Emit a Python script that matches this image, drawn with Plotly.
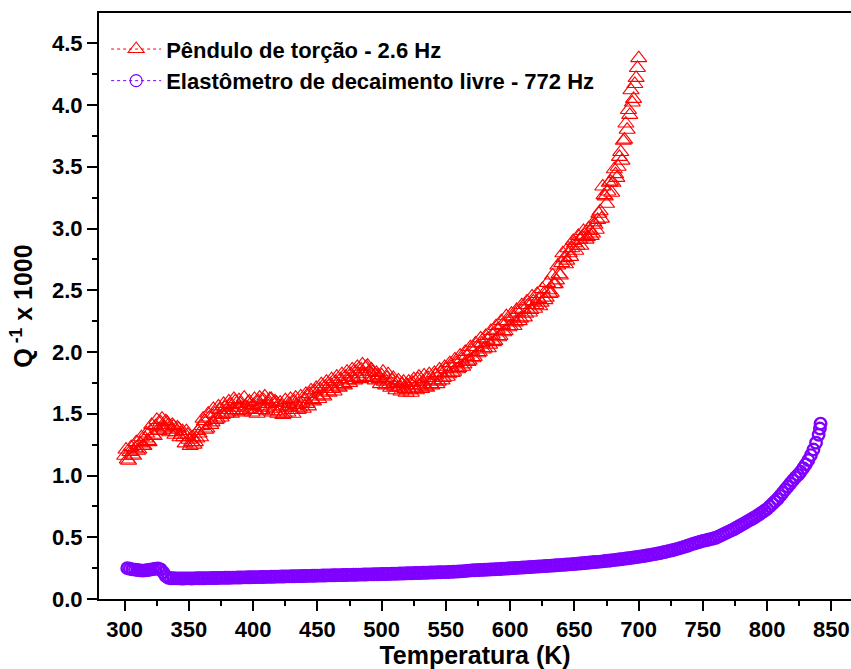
import plotly.graph_objects as go

# Torsion pendulum 2.6 Hz (red triangles)
temp_torcao = [
    300, 302, 304, 306, 308, 310, 312, 314, 316, 318,
    320, 322, 324, 326, 328, 330, 332, 334, 336, 338,
    340, 342, 344, 346, 348, 350, 352, 354, 356, 358,
    360, 362, 364, 366, 368, 370, 372, 374, 376, 378,
    380, 382, 384, 386, 388, 390, 392, 394, 396, 398,
    400, 402, 404, 406, 408, 410, 412, 414, 416, 418,
    420, 422, 424, 426, 428, 430, 432, 434, 436, 438,
    440, 442, 444, 446, 448, 450, 452, 454, 456, 458,
    460, 462, 464, 466, 468, 470, 472, 474, 476, 478,
    480, 482, 484, 486, 488, 490, 492, 494, 496, 498,
    500, 502, 504, 506, 508, 510, 512, 514, 516, 518,
    520, 522, 524, 526, 528, 530, 532, 534, 536, 538,
    540, 542, 544, 546, 548, 550, 552, 554, 556, 558,
    560, 562, 564, 566, 568, 570, 572, 574, 576, 578,
    580, 582, 584, 586, 588, 590, 592, 594, 596, 598,
    600, 602, 604, 606, 608, 610, 612, 614, 616, 618,
    620, 622, 624, 626, 628, 630, 632, 634, 636, 638,
    640, 642, 644, 646, 648, 650, 652, 654, 656, 658,
    660, 662, 664, 666, 668, 670, 672, 674, 676, 678,
    680, 682, 684, 686, 688, 690, 692, 694, 696, 698,
    700,
    301, 303, 305, 307, 309, 311, 313, 315, 317, 319,
    321, 323, 325, 327, 329, 331, 333, 335, 337, 339,
    341, 343, 345, 347, 349, 351, 353, 355, 357, 359,
    361, 363, 365, 367, 369, 371, 373, 375, 377, 379,
    381, 383, 385, 387, 389, 391, 393, 395, 397, 399,
    401, 403, 405, 407, 409, 411, 413, 415, 417, 419,
    421, 423, 425, 427, 429, 431, 433, 435, 437, 439,
    441, 443, 445, 447, 449, 451, 453, 455, 457, 459,
    461, 463, 465, 467, 469, 471, 473, 475, 477, 479,
    481, 483, 485, 487, 489, 491, 493, 495, 497, 499,
    501, 503, 505, 507, 509, 511, 513, 515, 517, 519,
    521, 523, 525, 527, 529, 531, 533, 535, 537, 539,
    541, 543, 545, 547, 549, 551, 553, 555, 557, 559,
    561, 563, 565, 567, 569, 571, 573, 575, 577, 579,
    581, 583, 585, 587, 589, 591, 593, 595, 597, 599,
    601, 603, 605, 607, 609, 611, 613, 615, 617, 619,
    621, 623, 625, 627, 629, 631, 633, 635, 637, 639,
    641, 643, 645, 647, 649, 651, 653, 655, 657, 659,
    661, 663, 665, 667, 669, 671, 673, 675, 677, 679,
    681, 683, 685, 687, 689, 691, 693, 695, 697, 699,
]
q_torcao = [
    1.16, 1.13, 1.19, 1.17, 1.22, 1.20, 1.26, 1.24, 1.30, 1.28,
    1.36, 1.33, 1.40, 1.37, 1.43, 1.39, 1.44, 1.41, 1.37, 1.40,
    1.35, 1.38, 1.33, 1.31, 1.36, 1.29, 1.27, 1.25, 1.30, 1.34,
    1.40, 1.44, 1.38, 1.47, 1.43, 1.50, 1.46, 1.53, 1.49, 1.55,
    1.51, 1.57, 1.53, 1.60, 1.55, 1.58, 1.52, 1.56, 1.59, 1.54,
    1.57, 1.53, 1.60, 1.56, 1.61, 1.55, 1.58, 1.62, 1.54, 1.59,
    1.52, 1.56, 1.50, 1.55, 1.58, 1.53, 1.60, 1.57, 1.55, 1.59,
    1.62, 1.58, 1.66, 1.61, 1.68, 1.64, 1.70, 1.65, 1.72, 1.68,
    1.74, 1.70, 1.76, 1.72, 1.78, 1.74, 1.80, 1.77, 1.82, 1.79,
    1.84, 1.80, 1.86, 1.82, 1.88, 1.84, 1.86, 1.80, 1.83, 1.78,
    1.81, 1.76, 1.79, 1.74, 1.77, 1.72, 1.75, 1.71, 1.74, 1.70,
    1.73, 1.69, 1.75, 1.71, 1.78, 1.73, 1.76, 1.72, 1.79, 1.74,
    1.77, 1.81, 1.76, 1.83, 1.79, 1.86, 1.82, 1.88, 1.84, 1.91,
    1.87, 1.94, 1.90, 1.97, 1.93, 2.01, 1.96, 2.04, 2.00, 2.07,
    2.03, 2.10, 2.06, 2.14, 2.09, 2.18, 2.13, 2.22, 2.17, 2.25,
    2.21, 2.28, 2.24, 2.32, 2.27, 2.35, 2.31, 2.38, 2.34, 2.41,
    2.38, 2.43, 2.40, 2.47, 2.44, 2.50, 2.48, 2.55, 2.58, 2.63,
    2.72, 2.76, 2.74, 2.80, 2.84, 2.88, 2.86, 2.91, 2.93, 2.95,
    2.93, 2.98, 2.96, 3.03, 3.07, 3.14, 3.34, 3.26, 3.30, 3.38,
    3.37, 3.44, 3.50, 3.62, 3.71, 3.85, 3.96, 4.12, 4.05, 4.22,
    4.38,
    1.21, 1.12, 1.23, 1.16, 1.27, 1.21, 1.31, 1.24, 1.34, 1.27,
    1.41, 1.32, 1.45, 1.36, 1.46, 1.38, 1.43, 1.35, 1.41, 1.33,
    1.39, 1.31, 1.36, 1.26, 1.33, 1.24, 1.31, 1.27, 1.36, 1.31,
    1.46, 1.37, 1.50, 1.41, 1.54, 1.45, 1.56, 1.47, 1.58, 1.50,
    1.60, 1.50, 1.62, 1.52, 1.61, 1.51, 1.63, 1.53, 1.60, 1.51,
    1.62, 1.50, 1.63, 1.53, 1.64, 1.52, 1.62, 1.51, 1.60, 1.50,
    1.59, 1.49, 1.61, 1.51, 1.62, 1.50, 1.63, 1.53, 1.64, 1.54,
    1.66, 1.56, 1.69, 1.60, 1.71, 1.62, 1.74, 1.64, 1.76, 1.67,
    1.78, 1.68, 1.80, 1.71, 1.82, 1.73, 1.84, 1.75, 1.86, 1.77,
    1.88, 1.78, 1.90, 1.80, 1.89, 1.79, 1.84, 1.77, 1.81, 1.74,
    1.84, 1.73, 1.82, 1.71, 1.79, 1.69, 1.77, 1.68, 1.76, 1.67,
    1.76, 1.67, 1.78, 1.69, 1.80, 1.70, 1.81, 1.71, 1.82, 1.73,
    1.83, 1.74, 1.86, 1.77, 1.88, 1.80, 1.91, 1.83, 1.94, 1.86,
    1.97, 1.88, 2.00, 1.92, 2.04, 1.95, 2.07, 1.99, 2.11, 2.02,
    2.13, 2.03, 2.17, 2.08, 2.21, 2.12, 2.25, 2.16, 2.29, 2.20,
    2.31, 2.21, 2.34, 2.25, 2.38, 2.28, 2.41, 2.32, 2.45, 2.35,
    2.47, 2.37, 2.51, 2.42, 2.56, 2.47, 2.62, 2.55, 2.70, 2.62,
    2.80, 2.71, 2.84, 2.77, 2.90, 2.82, 2.94, 2.86, 2.98, 2.91,
    3.00, 2.94, 3.05, 2.99, 3.12, 3.08, 3.27, 3.20, 3.37, 3.29,
    3.48, 3.41, 3.58, 3.55, 3.72, 3.80, 3.92, 4.02, 4.17, 4.30,
]

# Free-decay elastometer 772 Hz (purple circles)
temp_elasto = [
    302, 304, 306, 308, 310, 312, 314, 316, 318, 320,
    322, 324, 326, 328, 330, 332, 334, 336, 338, 340,
    342, 344, 346, 348, 350, 352, 354, 356, 358, 360,
    362, 364, 366, 368, 370, 372, 374, 376, 378, 380,
    382, 384, 386, 388, 390, 392, 394, 396, 398, 400,
    402, 404, 406, 408, 410, 412, 414, 416, 418, 420,
    422, 424, 426, 428, 430, 432, 434, 436, 438, 440,
    442, 444, 446, 448, 450, 452, 454, 456, 458, 460,
    462, 464, 466, 468, 470, 472, 474, 476, 478, 480,
    482, 484, 486, 488, 490, 492, 494, 496, 498, 500,
    502, 504, 506, 508, 510, 512, 514, 516, 518, 520,
    522, 524, 526, 528, 530, 532, 534, 536, 538, 540,
    542, 544, 546, 548, 550, 552, 554, 556, 558, 560,
    562, 564, 566, 568, 570, 572, 574, 576, 578, 580,
    582, 584, 586, 588, 590, 592, 594, 596, 598, 600,
    602, 604, 606, 608, 610, 612, 614, 616, 618, 620,
    622, 624, 626, 628, 630, 632, 634, 636, 638, 640,
    642, 644, 646, 648, 650, 652, 654, 656, 658, 660,
    662, 664, 666, 668, 670, 672, 674, 676, 678, 680,
    682, 684, 686, 688, 690, 692, 694, 696, 698, 700,
    702, 704, 706, 708, 710, 712, 714, 716, 718, 720,
    722, 724, 726, 728, 730, 732, 734, 736, 738, 740,
    742, 744, 746, 748, 750, 752, 754, 756, 758, 760,
    762, 764, 766, 768, 770, 772, 774, 776, 778, 780,
    782, 784, 786, 788, 790, 792, 794, 796, 798, 800,
    802, 804, 806, 808, 810, 812, 814, 816, 818, 820,
    822, 824, 826, 828, 830, 832, 834, 836, 838, 840,
    841, 841.5,
]
q_elasto = [
    0.250, 0.245, 0.240, 0.238, 0.235, 0.232, 0.230, 0.232, 0.235, 0.238,
    0.242, 0.245, 0.247, 0.240, 0.215, 0.185, 0.172, 0.168, 0.168, 0.167,
    0.167, 0.166, 0.166, 0.167, 0.167, 0.166, 0.167, 0.168, 0.168, 0.168,
    0.168, 0.169, 0.169, 0.170, 0.170, 0.170, 0.171, 0.171, 0.172, 0.172,
    0.172, 0.173, 0.173, 0.174, 0.174, 0.175, 0.175, 0.176, 0.176, 0.177,
    0.177, 0.177, 0.178, 0.178, 0.179, 0.179, 0.180, 0.180, 0.181, 0.181,
    0.182, 0.182, 0.183, 0.183, 0.184, 0.184, 0.185, 0.185, 0.186, 0.186,
    0.187, 0.187, 0.188, 0.188, 0.189, 0.189, 0.190, 0.190, 0.191, 0.191,
    0.192, 0.192, 0.193, 0.193, 0.194, 0.194, 0.195, 0.195, 0.196, 0.196,
    0.197, 0.197, 0.198, 0.198, 0.199, 0.199, 0.200, 0.201, 0.201, 0.202,
    0.202, 0.203, 0.203, 0.204, 0.205, 0.205, 0.206, 0.206, 0.207, 0.208,
    0.208, 0.209, 0.210, 0.210, 0.211, 0.212, 0.212, 0.213, 0.214, 0.215,
    0.215, 0.216, 0.217, 0.218, 0.218, 0.219, 0.220, 0.221, 0.222, 0.223,
    0.224, 0.226, 0.228, 0.230, 0.232, 0.233, 0.234, 0.235, 0.236, 0.237,
    0.238, 0.239, 0.240, 0.241, 0.242, 0.243, 0.245, 0.246, 0.247, 0.249,
    0.250, 0.251, 0.252, 0.254, 0.255, 0.256, 0.258, 0.259, 0.260, 0.262,
    0.263, 0.264, 0.266, 0.267, 0.268, 0.270, 0.271, 0.273, 0.274, 0.276,
    0.277, 0.279, 0.280, 0.282, 0.284, 0.286, 0.287, 0.289, 0.291, 0.293,
    0.295, 0.297, 0.299, 0.301, 0.303, 0.305, 0.308, 0.310, 0.312, 0.315,
    0.317, 0.320, 0.322, 0.325, 0.328, 0.330, 0.333, 0.336, 0.339, 0.342,
    0.345, 0.348, 0.352, 0.355, 0.359, 0.363, 0.367, 0.371, 0.375, 0.380,
    0.385, 0.390, 0.395, 0.400, 0.406, 0.412, 0.418, 0.424, 0.431, 0.438,
    0.446, 0.452, 0.458, 0.464, 0.470, 0.475, 0.480, 0.485, 0.490, 0.496,
    0.505, 0.515, 0.525, 0.535, 0.545, 0.555, 0.565, 0.577, 0.589, 0.600,
    0.612, 0.624, 0.636, 0.648, 0.660, 0.673, 0.687, 0.701, 0.715, 0.730,
    0.750, 0.770, 0.790, 0.810, 0.835, 0.860, 0.885, 0.910, 0.935, 0.960,
    0.985, 1.005, 1.030, 1.060, 1.090, 1.125, 1.165, 1.210, 1.265, 1.330,
    1.380, 1.420,
]

label_torcao = "Pêndulo de torção - 2.6 Hz"
label_elasto = "Elastômetro de decaimento livre - 772 Hz"

RED = "#FF0000"
PURPLE = "#7F00FF"
FONT = "Liberation Sans, Arial, sans-serif"

red_marker = dict(symbol="triangle-up-open", size=14, color=RED, line=dict(width=1.1, color=RED))
purple_marker = dict(symbol="circle-open", size=11.5, color=PURPLE, line=dict(width=2.4, color=PURPLE))
purple_marker_leg = dict(symbol="circle-open", size=12, color=PURPLE, line=dict(width=1.2, color=PURPLE))

fig = go.Figure()
# data traces (markers only)
fig.add_trace(go.Scatter(
    x=temp_torcao, y=q_torcao, name=label_torcao, mode="markers",
    marker=red_marker, showlegend=False,
))
fig.add_trace(go.Scatter(
    x=temp_elasto, y=q_elasto, name=label_elasto, mode="markers",
    marker=purple_marker, showlegend=False,
))
# legend entries (dotted line + symbol, as in the original)
fig.add_trace(go.Scatter(
    x=[None], y=[None], name=label_torcao, mode="lines+markers",
    line=dict(color=RED, width=1, dash="dot"), marker=red_marker,
))
fig.add_trace(go.Scatter(
    x=[None], y=[None], name=label_elasto, mode="lines+markers",
    line=dict(color=PURPLE, width=1, dash="dot"), marker=purple_marker_leg,
))

fig.update_layout(
    width=851, height=669,
    margin=dict(l=99, r=0, t=13, b=70),
    paper_bgcolor="white", plot_bgcolor="white",
    font=dict(family=FONT, color="black", size=22),
    showlegend=True,
    legend=dict(
        x=0.0095, y=0.974, xanchor="left", yanchor="top",
        bgcolor="rgba(0,0,0,0)", borderwidth=0,
        font=dict(family=FONT, size=22, color="black", weight="bold"),
        itemwidth=50, tracegroupgap=0,
    ),
)
fig.update_xaxes(
    range=[280, 865.2],
    tickmode="linear", tick0=300, dtick=50,
    ticks="outside", ticklen=10, tickwidth=2, tickcolor="black",
    minor=dict(ticks="outside", ticklen=5, tickwidth=2, tickcolor="black", dtick=25, tick0=275),
    showline=True, linecolor="black", linewidth=2, mirror=True,
    showgrid=False, zeroline=False,
    tickfont=dict(family=FONT, size=22, color="black", weight="bold"),
    title=dict(text="Temperatura (K)", font=dict(family=FONT, size=25, color="black", weight="bold"), standoff=6),
)
fig.update_yaxes(
    range=[0, 4.745],
    tickmode="linear", tick0=0, dtick=0.5, tickformat=".1f",
    ticks="outside", ticklen=10, tickwidth=2, tickcolor="black",
    minor=dict(ticks="outside", ticklen=5, tickwidth=2, tickcolor="black", dtick=0.25, tick0=0),
    showline=True, linecolor="black", linewidth=2, mirror=False,
    showgrid=False, zeroline=False,
    tickfont=dict(family=FONT, size=22, color="black", weight="bold"),
    title=dict(text="Q<sup> -1</sup> x 1000", font=dict(family=FONT, size=25, color="black", weight="bold"), standoff=12),
)

fig.write_html("out.html")
